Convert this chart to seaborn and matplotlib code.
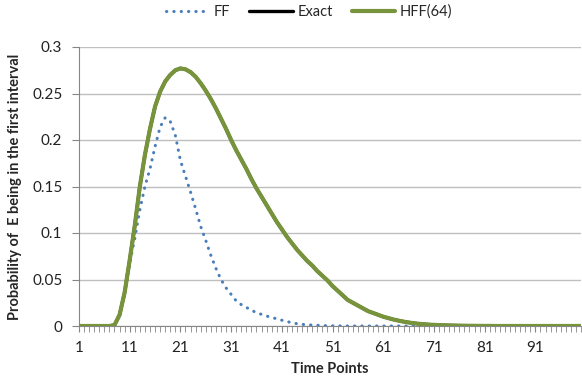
import numpy as np
import pandas as pd
import seaborn as sns
import matplotlib.pyplot as plt
from matplotlib.ticker import FixedLocator
from matplotlib.lines import Line2D

# Dados (pontos de tempo 1..100)
time_points = list(range(1, 101))

exact = [0, 0, 0, 0, 0, 0, 0, 0.001, 0.012, 0.036,
         0.071, 0.108, 0.150, 0.184, 0.212, 0.236, 0.252, 0.263, 0.270, 0.275,
         0.277, 0.276, 0.273, 0.268, 0.261, 0.253, 0.244, 0.234, 0.223, 0.212,
         0.200, 0.189, 0.179, 0.169, 0.158, 0.148, 0.139, 0.130, 0.121, 0.112,
         0.104, 0.096, 0.089, 0.082, 0.076, 0.070, 0.065, 0.059, 0.054, 0.049,
         0.043, 0.038, 0.033, 0.028, 0.025, 0.022, 0.019, 0.016, 0.014, 0.012,
         0.010, 0.0085, 0.007, 0.0058, 0.0047, 0.0038, 0.003, 0.0024, 0.0019, 0.0015,
         0.0012, 0.001, 0.0008, 0.0006, 0.0005, 0.0004, 0.0003, 0.0002, 0.0002, 0.0001,
         0.0001, 0.0001, 0, 0, 0, 0, 0, 0, 0, 0,
         0, 0, 0, 0, 0, 0, 0, 0, 0, 0]

hff64 = list(exact)

ff = [0, 0, 0, 0, 0, 0, 0, 0.001, 0.012, 0.035,
      0.068, 0.094, 0.125, 0.150, 0.169, 0.193, 0.214, 0.224, 0.220, 0.205,
      0.178, 0.161, 0.144, 0.126, 0.107, 0.092, 0.076, 0.062, 0.050, 0.041,
      0.034, 0.027, 0.023, 0.020, 0.017, 0.0143, 0.0125, 0.0107, 0.0092, 0.0077,
      0.0062, 0.0048, 0.0035, 0.0025, 0.0018, 0.0013, 0.001, 0.0007, 0.0005, 0.0003,
      0.0002, 0.0001, 0.0001, 0, 0, 0, 0, 0, 0, 0,
      0, 0, 0, 0, 0, 0, 0, 0, 0, 0,
      0, 0, 0, 0, 0, 0, 0, 0, 0, 0,
      0, 0, 0, 0, 0, 0, 0, 0, 0, 0,
      0, 0, 0, 0, 0, 0, 0, 0, 0, 0]

y_ticks = [0, 0.05, 0.1, 0.15, 0.2, 0.25, 0.3]
y_labels = ["0", "0.05", "0.1", "0.15", "0.2", "0.25", "0.3"]
x_ticks = list(range(1, 100, 10))

df = pd.DataFrame({"t": time_points, "FF": ff, "Exact": exact, "HFF(64)": hff64})

sns.set_style("white")
plt.rcParams['font.family'] = ['Lato', 'DejaVu Sans']

fig = plt.figure(figsize=(5.82, 3.89), dpi=100)
ax = fig.add_axes([79 / 582, 1 - 326 / 389, (581 - 79) / 582, (326 - 47) / 389])

blue = "#4A7EBB"
green = "#77933C"
grid = "#BFBFBF"
axis_c = "#868686"
dots = (0.1, 2.3)

# FF pontilhado, depois Exact e HFF(64) por cima
sns.lineplot(data=df, x="t", y="FF", ax=ax, color=blue, linewidth=2.2, zorder=3)
ax.lines[-1].set_dashes(dots)
ax.lines[-1].set_dash_capstyle("round")
sns.lineplot(data=df, x="t", y="Exact", ax=ax, color="black", linewidth=2.4, zorder=4)
sns.lineplot(data=df, x="t", y="HFF(64)", ax=ax, color=green, linewidth=3.0, zorder=5)

ax.set_xlim(1, 100)
ax.set_ylim(0, 0.3)
ax.set_yticks(y_ticks)
ax.set_yticklabels(y_labels)
ax.set_xticks(x_ticks)
ax.set_xticklabels([str(v) for v in x_ticks])
ax.xaxis.set_minor_locator(FixedLocator(time_points))

ax.grid(axis="y", color=grid, linewidth=1)
ax.set_axisbelow(True)
for s in ["top", "right"]:
    ax.spines[s].set_visible(False)
ax.spines["left"].set_color(axis_c)
ax.spines["bottom"].set_color(axis_c)
ax.tick_params(axis="x", which="both", direction="out", length=4, color=axis_c,
               labelsize=11, pad=7, labelcolor="#222222", bottom=True)
ax.tick_params(axis="y", which="major", direction="out", length=5, color=axis_c,
               labelsize=11, pad=7, labelcolor="#222222", left=True)

ax.set_xlabel("Time Points", fontsize=10.5, fontweight="bold", labelpad=5)
ax.set_ylabel("Probability of  E being in the first interval", fontsize=10.5,
              fontweight="bold", labelpad=7)

handles = [
    Line2D([], [], color=blue, linewidth=2.2, dashes=dots, dash_capstyle="round"),
    Line2D([], [], color="black", linewidth=2.4),
    Line2D([], [], color=green, linewidth=3.0),
]
fig.legend(handles, ["FF", "Exact", "HFF(64)"], loc="center",
           bbox_to_anchor=(309 / 582, 1 - 12 / 389), ncol=3, frameon=False,
           fontsize=10.5, handlelength=3.0, handletextpad=0.3, columnspacing=1.3)

plt.savefig("out.png", dpi=100)
